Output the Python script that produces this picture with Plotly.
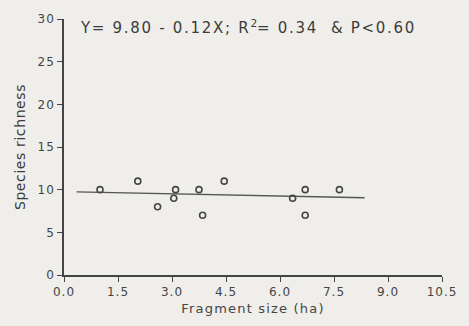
import plotly.graph_objects as go

frag_size = [1.0, 2.05, 2.6, 3.05, 3.1, 3.75, 3.85, 4.45, 6.35, 6.7, 6.7, 7.65]
richness = [10, 11, 8, 9, 10, 10, 7, 11, 9, 10, 7, 10]
fit_x = [0.35, 8.35]
fit_y = [9.75, 9.05]
x_ticks = [0.0, 1.5, 3.0, 4.5, 6.0, 7.5, 9.0, 10.5]
y_ticks = [0, 5, 10, 15, 20, 25, 30]


def spaced(s, px):
    return f'<span style="letter-spacing:{px}px">{s}</span>'


ink = "#454545"
fig = go.Figure()
fig.add_trace(go.Scatter(x=fit_x, y=fit_y, mode="lines",
                         line=dict(color="#555555", width=1.3), showlegend=False))
fig.add_trace(go.Scatter(x=frag_size, y=richness, mode="markers",
                         marker=dict(symbol="circle-open", size=6, color=ink,
                                     line=dict(width=1.6, color=ink)),
                         showlegend=False))

fig.add_annotation(x=0, y=1, xref="paper", yref="paper", xanchor="left", yanchor="middle",
                   xshift=14, yshift=-8,
                   text=spaced("Y= 9.80 - 0.12X; R", 1.7) + "<sup>2</sup>" + spaced("= 0.34  & P<0.60", 1.7),
                   showarrow=False, font=dict(size=15, color="#3c3c3c"))

axis_common = dict(showgrid=False, zeroline=False, showline=True, linecolor="#444444",
                   linewidth=1.5, ticks="outside", ticklen=5, tickwidth=1.3,
                   tickcolor="#444444", tickfont=dict(size=12, color=ink))
fig.update_xaxes(range=[0, 10.5], tickvals=x_ticks,
                 ticktext=[spaced(f"{v:.1f}", 1) for v in x_ticks],
                 title=dict(text=spaced("Fragment size (ha)", 1.2), font=dict(size=13, color=ink), standoff=6),
                 **axis_common)
fig.update_yaxes(range=[0, 30], tickvals=y_ticks,
                 ticktext=[spaced(str(v), 1) for v in y_ticks],
                 title=dict(text=spaced("Species richness", 0.6), font=dict(size=14, color="#3a3a3a"), standoff=9),
                 **axis_common)
fig.update_layout(width=469, height=326, margin=dict(l=64, r=17, t=18, b=50),
                  paper_bgcolor="#efeeea", plot_bgcolor="#efeeea",
                  font=dict(family="DejaVu Sans, Liberation Sans, sans-serif"))
fig.write_html("out.html")
